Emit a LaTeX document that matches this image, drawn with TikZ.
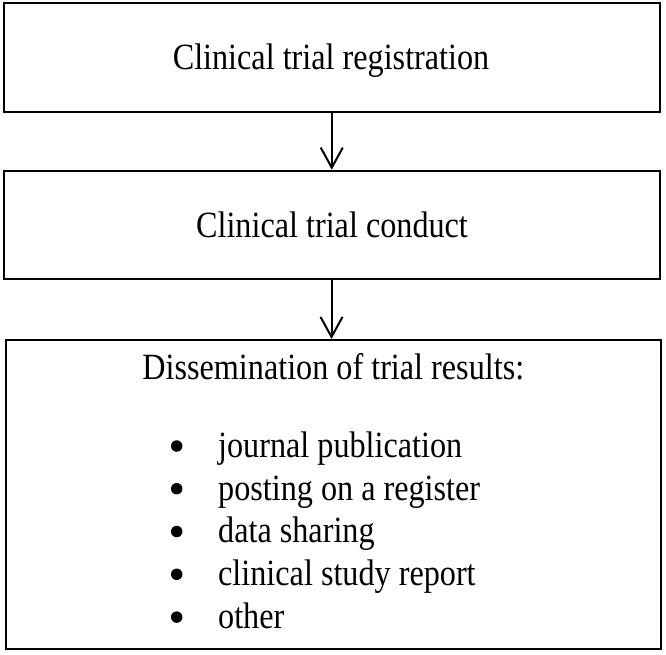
\documentclass[tikz,border=0pt]{standalone}
\usepackage{fontspec}
\setmainfont{Liberation Serif}[FakeStretch=0.87]
\usetikzlibrary{arrows.meta,calc}
\begin{document}
\begin{tikzpicture}[x=1pt,y=-1pt,
  box/.style={draw=black,line width=2pt,inner sep=0pt,minimum width=#1},
  lbl/.style={inner sep=0pt,anchor=base,font=\fontsize{37}{44}\selectfont},
  item/.style={inner sep=0pt,anchor=base west,font=\fontsize{37}{44}\selectfont},
  dot/.style={circle,fill=black,inner sep=0pt,minimum size=11.5pt},
  flow/.style={draw=black,line width=2pt,-{Straight Barb[length=20pt,width=22pt,line width=2pt]}}]
\useasboundingbox (0,0) rectangle (666,654);
\node[box=656.5pt,minimum height=109pt] (b1) at (331.75,57.8) {};
\node[box=656pt,minimum height=108.6pt] (b2) at (331.5,225) {};
\node[box=655.6pt,minimum height=309.3pt] (b3) at (333.5,494.65) {};
\draw[flow] (b1.south) -- (b1.south |- b2.north);
\draw[flow] (b2.south) -- (b2.south |- b3.north);
\node[lbl] (t1) at (331,69.3) {Clinical trial registration};
\node[lbl] (t2) at (332,237) {Clinical trial conduct};
\node[lbl] (t3) at (333.3,379.3) {Dissemination of trial results:};
\node[dot] (d1) at (176.7,446) {};
\node[dot] (d2) at (176.7,488.7) {};
\node[dot] (d3) at (176.7,531.5) {};
\node[dot] (d4) at (176.7,574.3) {};
\node[dot] (d5) at (176.7,617.1) {};
\node[item] (i1) at (218,457.3) {journal publication};
\node[item] (i2) at (218,500) {posting on a register};
\node[item] (i3) at (218,542.8) {data sharing};
\node[item] (i4) at (218,585.6) {clinical study report};
\node[item] (i5) at (218,628.4) {other};
\end{tikzpicture}
\end{document}
